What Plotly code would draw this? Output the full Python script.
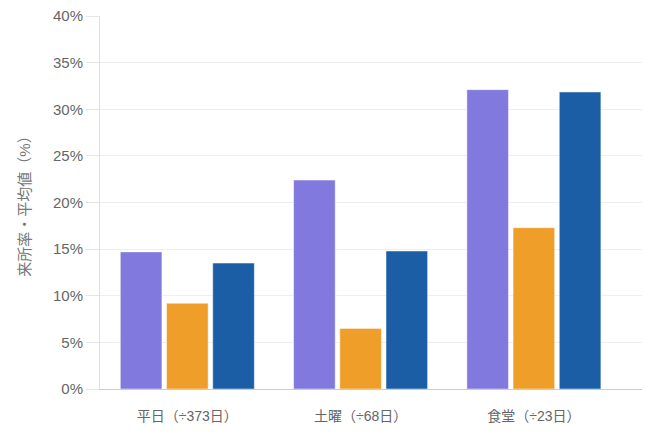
import plotly.graph_objects as go

categories = ["平日（÷373日）", "土曜（÷68日）", "食堂（÷23日）"]
series_a = [14.7, 22.4, 32.1]
series_b = [9.2, 6.5, 17.3]
series_c = [13.5, 14.8, 31.85]
colors = ["#8179dd", "#ef9e29", "#1b5ea6"]
y_ticks = [0, 5, 10, 15, 20, 25, 30, 35, 40]

font_family = "Liberation Sans, Arial, Noto Sans CJK JP, sans-serif"

fig = go.Figure()
for vals, col in zip([series_a, series_b, series_c], colors):
    fig.add_trace(go.Bar(
        x=categories, y=vals,
        marker=dict(color=col, line=dict(color="rgba(255,255,255,0.45)", width=1)),
        showlegend=False, hoverinfo="y",
    ))

fig.update_layout(
    width=645, height=432,
    margin=dict(l=100, r=3, t=16, b=43),
    paper_bgcolor="white", plot_bgcolor="white",
    barmode="group", bargap=0.2, bargroupgap=0.1,
    font=dict(family=font_family, size=14, color="#666666"),
)
fig.update_xaxes(
    range=[-0.504, 2.624],
    showline=True, linecolor="#cccccc", linewidth=1,
    showgrid=False, ticks="", ticklabelstandoff=14,
    tickfont=dict(size=14, color="#666666"),
)
fig.update_yaxes(
    range=[0, 40], tickvals=y_ticks, ticktext=[f"{v}%" for v in y_ticks],
    showgrid=True, gridcolor="#eeeeee", gridwidth=1,
    showline=True, linecolor="#e0e0e0", linewidth=1,
    ticks="outside", ticklen=13, tickcolor="#e6e6e6",
    tickfont=dict(size=15, color="#666666"),
    zeroline=False,
    title=dict(text="来所率・平均値（%）", font=dict(size=15, color="#777777"), standoff=18),
)

fig.write_html("out.html")
